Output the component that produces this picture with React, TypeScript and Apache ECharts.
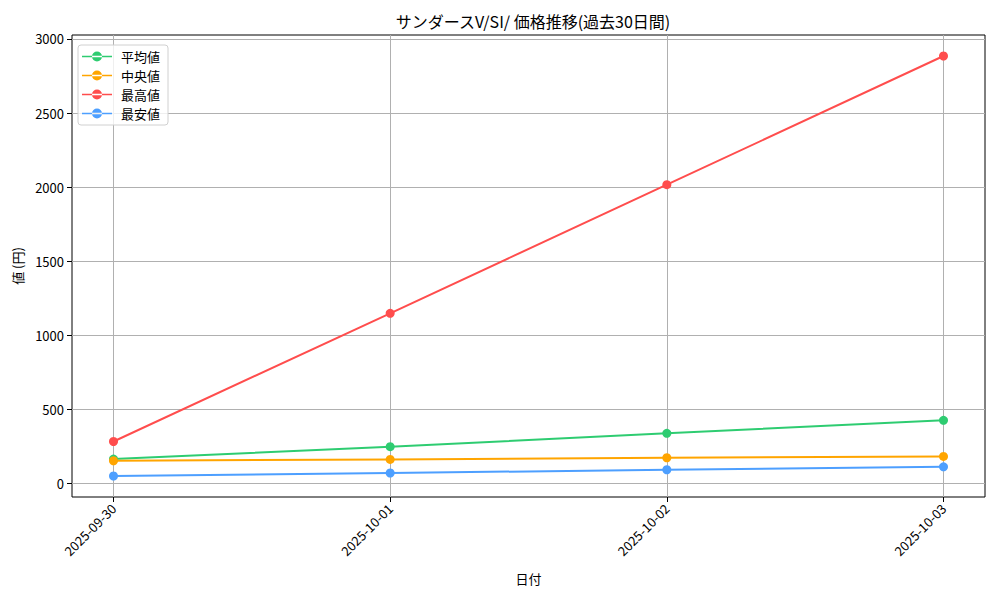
import React, { useEffect, useRef } from 'react';
import * as echarts from 'echarts';

const dates = ['2025-09-30', '2025-10-01', '2025-10-02', '2025-10-03'];
const avgValues = [162, 246, 336, 424];
const medianValues = [151, 160, 171, 180];
const highValues = [281, 1147, 2016, 2885];
const lowValues = [48, 68, 90, 110];
const yTicks = [0, 500, 1000, 1500, 2000, 2500, 3000];

const FONT = '"Noto Sans CJK JP", "DejaVu Sans", sans-serif';
// line with a dot in the middle, like a matplotlib legend handle
const LEGEND_ICON = 'path://M0,4.2H30V5.8H0Z M10,5a5,5 0 1,0 10,0a5,5 0 1,0 -10,0Z';

const SERIES = [
  { name: '平均値', color: '#2ECC71', values: avgValues },
  { name: '中央値', color: '#FFA500', values: medianValues },
  { name: '最高値', color: '#FF4D4D', values: highValues },
  { name: '最安値', color: '#4D9FFF', values: lowValues },
];

export default function App() {
  const chartRef = useRef<HTMLDivElement>(null);

  useEffect(() => {
    document.body.style.margin = '0';
    if (!chartRef.current) return;
    const chart = echarts.init(chartRef.current, null, { renderer: 'svg' });

    chart.setOption({
      animation: false,
      backgroundColor: '#fff',
      textStyle: { fontFamily: FONT },
      title: {
        text: 'サンダースV/SI/ 価格推移(過去30日間)',
        left: 528,
        top: 8,
        textAlign: 'center',
        textStyle: { fontFamily: FONT, fontSize: 16, fontWeight: 'normal', color: '#000' },
      },
      legend: {
        orient: 'vertical',
        left: 78,
        top: 45,
        itemWidth: 30,
        itemHeight: 10,
        itemGap: 6,
        padding: [5, 8, 5, 4],
        borderColor: '#d0d0d0',
        borderWidth: 1,
        borderRadius: 3,
        backgroundColor: 'rgba(255,255,255,0.8)',
        textStyle: { fontFamily: FONT, fontSize: 13, color: '#000', padding: [0, 0, 0, 4] },
        data: SERIES.map((s) => ({ name: s.name, icon: LEGEND_ICON })),
      },
      grid: {
        left: 72,
        right: 15,
        top: 35,
        bottom: 103,
        show: true,
        borderColor: '#000',
        borderWidth: 1,
        backgroundColor: 'transparent',
      },
      xAxis: {
        type: 'value',
        min: -0.15,
        max: 3.15,
        name: '日付',
        nameLocation: 'middle',
        nameGap: 75,
        nameTextStyle: { fontFamily: FONT, fontSize: 13, color: '#000' },
        axisLine: { show: false, onZero: false },
        axisTick: { show: true, length: 5, inside: false, lineStyle: { color: '#000' }, customValues: [0, 1, 2, 3] },
        axisLabel: {
          customValues: [0, 1, 2, 3],
          rotate: 45,
          margin: 9,
          fontFamily: FONT,
          fontSize: 13,
          color: '#000',
          formatter: (v: number) => dates[Math.round(v)] ?? '',
        },
        splitLine: { show: true, lineStyle: { color: '#b0b0b0', width: 1 } },
      },
      yAxis: {
        type: 'value',
        min: -94,
        max: 3027,
        name: '値 (円)',
        nameLocation: 'middle',
        nameGap: 47,
        nameRotate: 90,
        nameTextStyle: { fontFamily: FONT, fontSize: 13, color: '#000' },
        axisLine: { show: false, onZero: false },
        axisTick: { show: true, length: 5, inside: false, lineStyle: { color: '#000' }, customValues: yTicks },
        axisLabel: {
          customValues: yTicks,
          margin: 8,
          fontFamily: FONT,
          fontSize: 13,
          color: '#000',
          formatter: (v: number) => String(v),
        },
        splitLine: { show: true, lineStyle: { color: '#b0b0b0', width: 1 } },
      },
      series: SERIES.map((s) => ({
        name: s.name,
        type: 'line',
        data: s.values.map((v, i) => [i, v]),
        symbol: 'circle',
        symbolSize: 9,
        showAllSymbol: true,
        itemStyle: { color: s.color },
        lineStyle: { color: s.color, width: 2 },
      })),
    });

    return () => {
      chart.dispose();
    };
  }, []);

  return <div ref={chartRef} style={{ width: 1000, height: 600 }} />;
}
